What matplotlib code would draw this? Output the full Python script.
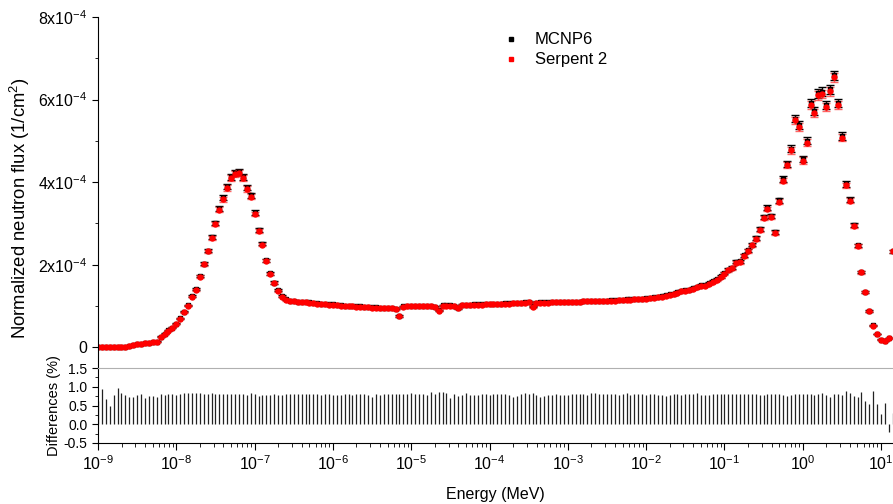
import matplotlib
matplotlib.use('Agg')
import matplotlib.pyplot as plt
from matplotlib.lines import Line2D
from matplotlib.ticker import FixedLocator, MultipleLocator, LogLocator, NullFormatter
import numpy as np

plt.rcParams['font.family'] = ['Liberation Sans', 'DejaVu Sans']
plt.rcParams['mathtext.fontset'] = 'custom'
plt.rcParams['mathtext.rm'] = 'Liberation Sans'
plt.rcParams['mathtext.it'] = 'Liberation Sans:italic'
plt.rcParams['axes.unicode_minus'] = False

# log10 of energy (MeV), group midpoints
log_energy = [
    -9.00, -8.95, -8.90, -8.85, -8.80, -8.75, -8.70, -8.65, -8.60, -8.55,
    -8.50, -8.45, -8.40, -8.35, -8.30, -8.25, -8.20, -8.15, -8.10, -8.05,
    -8.00, -7.95, -7.90, -7.85, -7.80, -7.75, -7.70, -7.65, -7.60, -7.55,
    -7.50, -7.45, -7.40, -7.35, -7.30, -7.25, -7.20, -7.15, -7.10, -7.05,
    -7.00, -6.95, -6.90, -6.85, -6.80, -6.75, -6.70, -6.65, -6.60, -6.55,
    -6.50, -6.45, -6.40, -6.35, -6.30, -6.25, -6.20, -6.15, -6.10, -6.05,
    -6.00, -5.95, -5.90, -5.85, -5.80, -5.75, -5.70, -5.65, -5.60, -5.55,
    -5.50, -5.45, -5.40, -5.35, -5.30, -5.25, -5.20, -5.15, -5.10, -5.05,
    -5.00, -4.95, -4.90, -4.85, -4.80, -4.75, -4.70, -4.65, -4.60, -4.55,
    -4.50, -4.45, -4.40, -4.35, -4.30, -4.25, -4.20, -4.15, -4.10, -4.05,
    -4.00, -3.95, -3.90, -3.85, -3.80, -3.75, -3.70, -3.65, -3.60, -3.55,
    -3.50, -3.45, -3.40, -3.35, -3.30, -3.25, -3.20, -3.15, -3.10, -3.05,
    -3.00, -2.95, -2.90, -2.85, -2.80, -2.75, -2.70, -2.65, -2.60, -2.55,
    -2.50, -2.45, -2.40, -2.35, -2.30, -2.25, -2.20, -2.15, -2.10, -2.05,
    -2.00, -1.95, -1.90, -1.85, -1.80, -1.75, -1.70, -1.65, -1.60, -1.55,
    -1.50, -1.45, -1.40, -1.35, -1.30, -1.25, -1.20, -1.15, -1.10, -1.05,
    -1.00, -0.95, -0.90, -0.85, -0.80, -0.75, -0.70, -0.65, -0.60, -0.55,
    -0.50, -0.45, -0.40, -0.35, -0.30, -0.25, -0.20, -0.15, -0.10, -0.05,
    0.00, 0.05, 0.10, 0.15, 0.20, 0.25, 0.30, 0.35, 0.40, 0.45,
    0.50, 0.55, 0.60, 0.65, 0.70, 0.75, 0.80, 0.85, 0.90, 0.95,
    1.00, 1.05, 1.10, 1.15,
]

# MCNP6 normalized flux, units of 1e-4 1/cm^2
flux_mcnp = [
    0.00, 0.00, 0.00, 0.00, 0.00, 0.01, 0.01, 0.02, 0.03, 0.05,
    0.07, 0.08, 0.10, 0.11, 0.13, 0.14, 0.26, 0.33, 0.41, 0.48,
    0.57, 0.70, 0.86, 1.02, 1.24, 1.41, 1.73, 2.03, 2.34, 2.67,
    3.02, 3.36, 3.62, 3.89, 4.13, 4.23, 4.25, 4.13, 3.87, 3.68,
    3.26, 2.85, 2.51, 2.11, 1.79, 1.57, 1.38, 1.24, 1.16, 1.13,
    1.12, 1.11, 1.10, 1.10, 1.09, 1.08, 1.07, 1.06, 1.05, 1.04,
    1.04, 1.03, 1.02, 1.01, 1.00, 1.00, 0.99, 0.99, 0.98, 0.98,
    0.97, 0.97, 0.96, 0.96, 0.95, 0.95, 0.94, 0.76, 0.99, 1.00,
    1.00, 1.00, 1.01, 1.01, 1.00, 1.01, 0.98, 0.90, 1.02, 1.02,
    1.02, 1.01, 0.95, 1.03, 1.03, 1.03, 1.04, 1.04, 1.04, 1.05,
    1.05, 1.05, 1.06, 1.06, 1.07, 1.07, 1.07, 1.08, 1.08, 1.09,
    1.11, 0.99, 1.08, 1.09, 1.09, 1.09, 1.10, 1.10, 1.10, 1.10,
    1.10, 1.11, 1.11, 1.11, 1.12, 1.12, 1.12, 1.12, 1.13, 1.13,
    1.13, 1.14, 1.14, 1.15, 1.15, 1.16, 1.16, 1.17, 1.17, 1.18,
    1.19, 1.20, 1.21, 1.22, 1.24, 1.26, 1.28, 1.30, 1.33, 1.37,
    1.38, 1.40, 1.43, 1.47, 1.50, 1.50, 1.55, 1.60, 1.65, 1.72,
    1.80, 1.88, 1.93, 2.07, 2.08, 2.23, 2.35, 2.49, 2.65, 2.86,
    3.16, 3.38, 3.18, 2.80, 3.56, 4.07, 4.44, 4.81, 5.54, 5.38,
    4.56, 5.00, 5.92, 5.73, 6.15, 6.19, 5.87, 6.25, 6.59, 5.92,
    5.12, 3.96, 3.58, 2.96, 2.47, 1.83, 1.34, 0.88, 0.53, 0.32,
    0.19, 0.15, 0.23, 2.33,
]

# relative difference MCNP6 vs Serpent 2 (%)
diff_pct = [
    0.61, 0.94, 0.67, 0.50, 0.79, 0.96, 0.83, 0.79, 0.74, 0.74,
    0.79, 0.81, 0.71, 0.76, 0.76, 0.72, 0.81, 0.79, 0.81, 0.81,
    0.78, 0.80, 0.84, 0.84, 0.84, 0.84, 0.84, 0.82, 0.80, 0.84,
    0.81, 0.82, 0.82, 0.81, 0.80, 0.81, 0.82, 0.82, 0.79, 0.83,
    0.80, 0.76, 0.77, 0.79, 0.79, 0.80, 0.77, 0.79, 0.80, 0.81,
    0.80, 0.81, 0.81, 0.80, 0.81, 0.82, 0.80, 0.79, 0.81, 0.80,
    0.78, 0.79, 0.77, 0.80, 0.81, 0.79, 0.82, 0.80, 0.81, 0.78,
    0.74, 0.80, 0.78, 0.81, 0.81, 0.80, 0.82, 0.80, 0.81, 0.82,
    0.83, 0.81, 0.80, 0.80, 0.79, 0.85, 0.81, 0.85, 0.85, 0.84,
    0.71, 0.82, 0.76, 0.77, 0.83, 0.79, 0.78, 0.78, 0.80, 0.80,
    0.79, 0.81, 0.80, 0.82, 0.80, 0.79, 0.72, 0.75, 0.82, 0.84,
    0.82, 0.83, 0.78, 0.73, 0.76, 0.79, 0.78, 0.80, 0.78, 0.78,
    0.77, 0.82, 0.80, 0.81, 0.80, 0.79, 0.83, 0.83, 0.80, 0.82,
    0.81, 0.81, 0.80, 0.79, 0.80, 0.84, 0.78, 0.82, 0.80, 0.80,
    0.79, 0.81, 0.80, 0.79, 0.78, 0.75, 0.79, 0.80, 0.81, 0.78,
    0.82, 0.81, 0.82, 0.83, 0.79, 0.77, 0.79, 0.82, 0.81, 0.80,
    0.81, 0.82, 0.81, 0.80, 0.81, 0.80, 0.82, 0.81, 0.80, 0.78,
    0.78, 0.80, 0.82, 0.81, 0.80, 0.78, 0.76, 0.79, 0.82, 0.80,
    0.80, 0.81, 0.81, 0.79, 0.80, 0.84, 0.77, 0.74, 0.81, 0.80,
    0.78, 0.89, 0.83, 0.76, 0.74, 0.85, 0.63, 0.54, 0.88, 0.54,
    0.28, 0.56, -0.20, 0.30,
]

rel_err = 0.017  # approx. statistical error on each group

energy = 10 ** np.array(log_energy)
mcnp = np.array(flux_mcnp) * 1e-4
serpent = mcnp * (1 - np.array(diff_pct) / 100)

fig = plt.figure(figsize=(8.93, 5.04), dpi=100)
ax = fig.add_axes([98 / 893, 1 - 368 / 504, 1 - 98 / 893, 351 / 504])
axd = fig.add_axes([98 / 893, 1 - 443 / 504, 1 - 98 / 893, 75 / 504], sharex=ax)

ax.errorbar(energy, mcnp, yerr=mcnp * rel_err, fmt='s', color='black', ms=3,
            ecolor='black', elinewidth=1, capsize=2.8, capthick=1)
ax.errorbar(energy, serpent, yerr=serpent * rel_err, fmt='o', color='#ff0000', ms=3.6,
            ecolor=(1, 0.2, 0.2, 0.75), elinewidth=1, capsize=2.8, capthick=1)

ax.set_xscale('log')
ax.set_xlim(1e-9, 10 ** 1.153)
ax.set_ylim(-0.5e-4, 8e-4)
for s in ['top', 'right', 'bottom']:
    ax.spines[s].set_visible(False)
ax.tick_params(axis='x', which='both', bottom=False, labelbottom=False)
ax.yaxis.set_major_locator(FixedLocator([0, 2e-4, 4e-4, 6e-4, 8e-4]))
ax.yaxis.set_minor_locator(MultipleLocator(1e-4))
ax.set_yticklabels(['0', r'2x10$^{-4}$', r'4x10$^{-4}$', r'6x10$^{-4}$', r'8x10$^{-4}$'])
ax.tick_params(axis='y', which='major', direction='out', length=4, labelsize=11.5)
ax.tick_params(axis='y', which='minor', direction='out', length=2.5)
ax.set_ylabel(r'Normalized neutron flux (1/cm$^2$)', fontsize=13.3)
ax.yaxis.set_label_coords(-0.083, 0.456)

handles = [Line2D([], [], ls='none', marker='s', ms=2.2, color='black'),
           Line2D([], [], ls='none', marker='s', ms=2.2, color='#ff0000')]
ax.legend(handles, ['MCNP6', 'Serpent 2'], loc='upper left',
          bbox_to_anchor=(0.49, 0.999), frameon=False, fontsize=12,
          handlelength=1.0, handletextpad=0.95, labelspacing=0.3)

axd.vlines(energy, 0, diff_pct, color='#222222', lw=0.9)
axd.set_ylim(-0.5, 1.5)
axd.spines['right'].set_visible(False)
axd.spines['top'].set_color('#b0b0b0')
axd.yaxis.set_major_locator(FixedLocator([-0.5, 0.0, 0.5, 1.0, 1.5]))
axd.yaxis.set_minor_locator(MultipleLocator(0.25))
axd.set_yticklabels(['-0.5', '0.0', '0.5', '1.0', '1.5'])
axd.tick_params(axis='y', which='major', direction='out', length=4, labelsize=10)
axd.tick_params(axis='y', which='minor', direction='out', length=2.5)
axd.xaxis.set_major_locator(LogLocator(base=10, numticks=20))
axd.xaxis.set_minor_locator(LogLocator(base=10, subs=np.arange(2, 10), numticks=20))
axd.xaxis.set_minor_formatter(NullFormatter())
axd.tick_params(axis='x', which='major', direction='out', length=5, labelsize=11.5, pad=3)
axd.tick_params(axis='x', which='minor', direction='out', length=3)
axd.set_ylabel('Differences (%)', fontsize=10.5)
axd.yaxis.set_label_coords(-0.047, 0.5)
axd.set_xlabel('Energy (MeV)', fontsize=11.5, labelpad=10)

fig.savefig('out.png', dpi=100)
